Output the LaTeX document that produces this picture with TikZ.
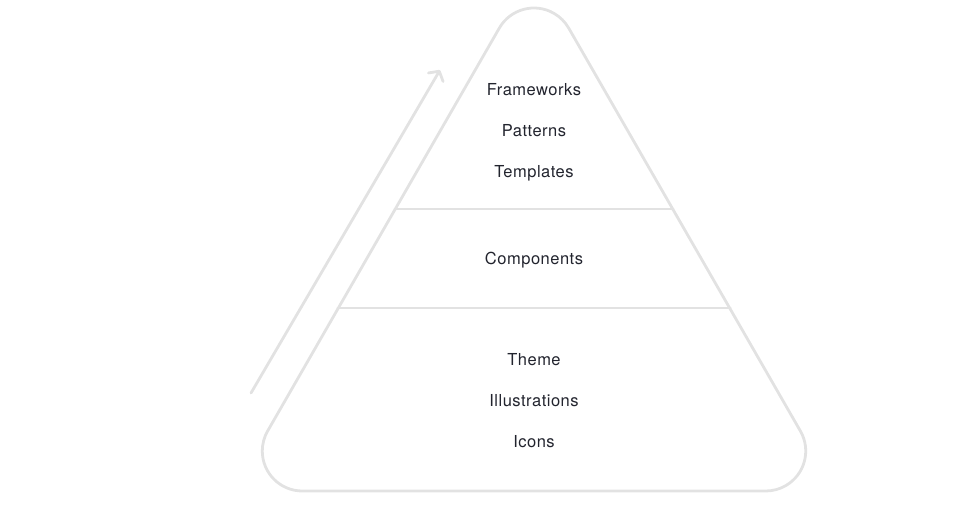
\documentclass[tikz,border=0pt]{standalone}
\usepackage{fontspec}
\setmainfont{TeX Gyre Heros}[LetterSpace=3]
\usetikzlibrary{arrows.meta}
\definecolor{edgegray}{HTML}{E2E2E2}
\definecolor{textdark}{HTML}{22242E}
\tikzset{
  shapeline/.style={draw=edgegray, line width=2.8pt, line join=round, line cap=round},
  label/.style={text=textdark, font=\fontsize{16.5}{19}\selectfont, inner sep=0pt, anchor=base},
  risearrow/.style={draw=edgegray, line width=2.8pt, line cap=round, -{Straight Barb[length=7pt, width=17pt, line width=2.8pt, round]}}
}
\begin{document}
\begin{tikzpicture}[x=1pt, y=-1pt]
  \useasboundingbox (0,0) rectangle (966,516);
  % pyramid outline: equilateral triangle with corners rounded at radius 40
  \coordinate (topl) at (499.36,28);
  \draw[shapeline] (topl) arc[start angle=210, end angle=330, radius=40]
    -- (800.36,431) arc[start angle=-30, end angle=90, radius=40]
    -- (302.28,491) arc[start angle=90, end angle=210, radius=40]
    -- cycle;
  % dividers
  \coordinate (d1l) at (394.9,209);
  \coordinate (d1r) at (673.1,209);
  \coordinate (d2l) at (337.7,308);
  \coordinate (d2r) at (730.3,308);
  \draw[shapeline] (d1l) -- (d1r);
  \draw[shapeline] (d2l) -- (d2r);
  % arrow
  \coordinate (as) at (251,393);
  \coordinate (ae) at (440,70);
  \draw[risearrow] (as) -- (ae);
  % labels
  \node[label] (fw) at (534,95.5) {Frameworks};
  \node[label] (pt) at (534,136.5) {Patterns};
  \node[label] (tp) at (534,177.5) {Templates};
  \node[label] (cp) at (534,264.5) {Components};
  \node[label] (th) at (534,365.5) {Theme};
  \node[label] (il) at (534,406.5) {Illustrations};
  \node[label] (ic) at (534,447.5) {Icons};
\end{tikzpicture}
\end{document}
